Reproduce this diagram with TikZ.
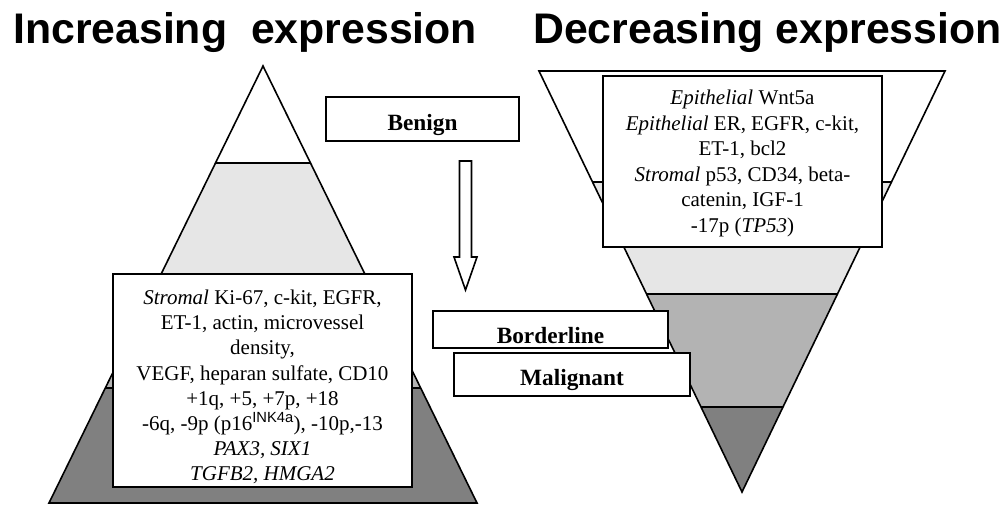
\documentclass[tikz,border=0pt]{standalone}
\usepackage{fontspec}
\setmainfont{Liberation Serif}
\setsansfont{Liberation Sans}
\usepackage{tikz}
\usetikzlibrary{positioning, calc}
\definecolor{lightband}{HTML}{E6E6E6}
\definecolor{midband}{HTML}{B3B3B3}
\definecolor{darkband}{HTML}{808080}
\tikzset{
    heading/.style={font=\sffamily\bfseries\fontsize{42.8}{48}\selectfont, inner sep=0pt, anchor=base west},
    outline/.style={draw=black, line width=1.6pt, line join=miter},
    infobox/.style={draw=black, line width=1.6pt, fill=white, inner sep=0pt},
    listtext/.style={align=center, inner sep=0pt, font=\fontsize{21}{25.2}\selectfont},
    stagebox/.style={draw=black, line width=1.6pt, fill=white, inner sep=0pt, text depth=0pt,
        font=\bfseries\fontsize{23.3}{27}\selectfont},
}

\begin{document}
\begin{tikzpicture}[x=1pt,y=-1pt]
    \useasboundingbox (0,0) rectangle (1003,504);
    \node[heading] (inc) at (13,43) {Increasing\ \ expression};
    \node[heading] (dec) at (533,43) {Decreasing expression};
    % pyramid, increasing expression
    \begin{scope}
        \clip (263,66) -- (477,503) -- (49,503) -- cycle;
        \foreach \ya/\yb/\shade in {163/276/lightband, 276/388/midband, 388/510/darkband}
            \fill[\shade] (0,\ya) rectangle (1003,\yb);
        \draw[line width=1.6pt] (0,163) -- (500,163);
        \draw[line width=1.6pt] (0,388) -- (500,388);
    \end{scope}
    \draw[outline] (263,66) -- (477,503) -- (49,503) -- cycle;
    % inverted pyramid, decreasing expression
    \begin{scope}
        \clip (539,71) -- (945,71) -- (742,492) -- cycle;
        \foreach \ya/\yb/\shade in {182/294/lightband, 294/407/midband, 407/500/darkband}
            \fill[\shade] (500,\ya) rectangle (1003,\yb);
        \foreach \ya in {182, 294, 407}
            \draw[line width=1.6pt] (500,\ya) -- (1003,\ya);
    \end{scope}
    \draw[outline] (539,71) -- (945,71) -- (742,492) -- cycle;
    % stages
    \node[stagebox, minimum width=193pt, minimum height=44pt, text height=22pt] (benign) at (422.5,119) {Benign};
    \node[stagebox, minimum width=235pt, minimum height=37pt, text height=27.5pt] (border) at (550.5,329.5) {Borderline};
    \node[stagebox, minimum width=236pt, minimum height=43pt, text height=21pt] (malig) at (572,374.5) {Malignant};
    \draw[outline, fill=white] (459.5,161) -- (471.5,161) -- (471.5,257) -- (477,257) -- (465.5,290)
        -- (454,257) -- (459.5,257) -- cycle;
    % marker lists
    \node[infobox, minimum width=299pt, minimum height=213pt] (stromal) at (262.5,380.5) {};
    \node[listtext, anchor=north] (stromaltext) at ($(stromal.north)+(0,16.5)$)
        {\textit{Stromal} Ki-67, c-kit, EGFR,\\ET-1, actin, microvessel\\density,\\
         VEGF, heparan sulfate, CD10\\+1q, +5, +7p, +18\\
         -6q, -9p (p16\textsuperscript{\sffamily INK4a}), -10p,-13\\
         \textit{PAX3, SIX1}\\\textit{TGFB2, HMGA2}};
    \node[infobox, minimum width=279pt, minimum height=171pt] (epith) at (742.5,161.5) {};
    \node[listtext, anchor=north, font=\fontsize{21}{25.6}\selectfont] (epithtext) at ($(epith.north)+(0,14.5)$)
        {\textit{Epithelial} Wnt5a\\\textit{Epithelial} ER, EGFR, c-kit,\\ET-1, bcl2\\
         \textit{Stromal} p53, CD34, beta-\\catenin, IGF-1\\-17p (\textit{TP53})};
\end{tikzpicture}
\end{document}
